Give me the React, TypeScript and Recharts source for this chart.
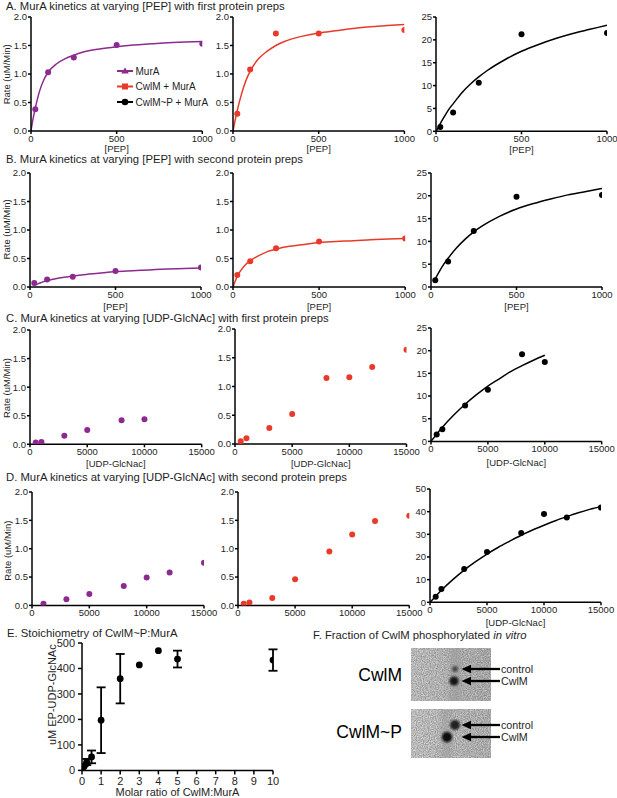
import React from 'react';
import { ComposedChart, Line, Scatter, XAxis, YAxis, ErrorBar, Legend } from 'recharts';

const PURPLE = '#8c2a90';
const RED = '#e83a2a';
const BLACK = '#000000';
const TEXT = '#1e1e1e';
const FONT = '"Liberation Sans", Arial, Helvetica, sans-serif';

// ---- tick labels
const pepTicks = [0, 500, 1000];
const udpTicks = [0, 5000, 10000, 15000];
const rateTicks = [0, 0.5, 1, 1.5, 2];
const rate25Ticks = [0, 5, 10, 15, 20, 25];
const rate50Ticks = [0, 10, 20, 30, 40, 50];
const ratioTicks = [0, 1, 2, 3, 4, 5, 6, 7, 8, 9, 10];
const productTicks = [0, 100, 200, 300, 400, 500];

// ---- legend
const legendNames = ['MurA', 'CwlM + MurA', 'CwlM~P + MurA'];
const legendColors = [PURPLE, RED, BLACK];
const legendShapes = ['triangle', 'square', 'circle'];

// ---- A: [PEP], first preps
const pepConc = [25, 100, 250, 500, 1000];
const aMurA = [0.38, 1.03, 1.29, 1.51, 1.53];
const aCwlM = [0.3, 1.08, 1.71, 1.71, 1.77];
const aCwlMP = [0.95, 4.1, 10.6, 21.2, 21.5];
const pepFitConc = [0, 10, 25, 50, 75, 100, 150, 200, 250, 300, 400, 500, 600, 700, 800, 900, 1000];
const aMurAFit = [0, 0.18, 0.4, 0.7, 0.9, 1.03, 1.18, 1.27, 1.33, 1.38, 1.44, 1.48, 1.51, 1.53, 1.55, 1.56, 1.57];
const aCwlMFit = [0, 0.15, 0.36, 0.65, 0.88, 1.05, 1.27, 1.4, 1.5, 1.57, 1.66, 1.72, 1.76, 1.8, 1.83, 1.85, 1.87];
const aCwlMPFit = [0, 0.6, 1.7, 3.3, 4.8, 6.0, 8.4, 10.3, 11.9, 13.3, 15.6, 17.5, 19.0, 20.3, 21.4, 22.3, 23.2];

// ---- B: [PEP], second preps
const bMurA = [0.07, 0.13, 0.18, 0.28, 0.34];
const bCwlM = [0.21, 0.45, 0.68, 0.8, 0.85];
const bCwlMP = [1.5, 5.6, 12.3, 19.8, 20.2];
const pepFitConc25 = [25, 50, 75, 100, 150, 200, 250, 300, 400, 500, 600, 700, 800, 900, 1000];
const bMurAFit = [0.03, 0.06, 0.09, 0.11, 0.145, 0.17, 0.19, 0.21, 0.24, 0.27, 0.285, 0.3, 0.315, 0.325, 0.335];
const bCwlMFit = [0, 0.08, 0.19, 0.31, 0.4, 0.46, 0.55, 0.62, 0.66, 0.7, 0.74, 0.78, 0.8, 0.81, 0.83, 0.84, 0.85];
const bCwlMPFit = [1.8, 3.5, 5.0, 6.3, 8.6, 10.5, 12.1, 13.4, 15.5, 17.1, 18.3, 19.3, 20.2, 20.9, 21.6];

// ---- C: [UDP-GlcNAc], first preps
const cConcMurA = [500, 1000, 3000, 5000, 8000, 10000];
const cMurA = [0.03, 0.04, 0.15, 0.25, 0.42, 0.44];
const cConcCwlM = [500, 1000, 3000, 5000, 8000, 10000, 12000, 15000];
const cCwlM = [0.05, 0.1, 0.28, 0.52, 1.15, 1.16, 1.34, 1.64];
const cConcCwlMP = [500, 1000, 3000, 5000, 8000, 10000];
const cCwlMP = [1.5, 2.7, 7.9, 11.4, 19.2, 17.5];
const cFitConc = [0, 500, 1000, 2000, 3000, 4000, 5000, 6000, 7000, 8000, 9000, 10000];
const cCwlMPFit = [0, 1.6, 3.1, 5.8, 8.2, 10.3, 12.2, 13.8, 15.4, 16.7, 17.9, 19.0];

// ---- D: [UDP-GlcNAc], second preps
const dConcMurA = [1000, 3000, 5000, 8000, 10000, 12000, 15000];
const dMurA = [0.03, 0.11, 0.2, 0.34, 0.49, 0.58, 0.75];
const dConcCwlM = [500, 1000, 3000, 5000, 8000, 10000, 12000, 15000];
const dCwlM = [0.03, 0.05, 0.13, 0.46, 0.95, 1.25, 1.49, 1.58];
const dConcCwlMP = [500, 1000, 3000, 5000, 8000, 10000, 12000, 15000];
const dCwlMP = [2.5, 5.9, 14.7, 22.2, 30.6, 39.0, 37.4, 41.8];
const dFitConc = [0, 500, 1000, 2000, 3000, 4000, 5000, 6000, 7000, 8000, 9000, 10000, 11000, 12000, 13000, 14000, 15000];
const dCwlMPFit = [0, 2.7, 5.3, 10.0, 14.2, 17.9, 21.3, 24.3, 27.0, 29.6, 31.9, 34.0, 36.0, 37.8, 39.5, 41.0, 42.3];

// ---- E: stoichiometry
const eRatio = [0.1, 0.2, 0.25, 0.5, 1, 2, 3, 4, 5, 10];
const eProduct = [14, 24, 33, 53, 197, 360, 414, 470, 437, 433];
const eSD = [0, 0, 12, 25, 129, 97, 0, 0, 33, 42];

type Pt = { x: number; y: number; err?: number };
const zip = (xs: number[], ys: number[], es?: number[]): Pt[] =>
  xs.map((x, i) => (es ? { x, y: ys[i], err: es[i] } : { x, y: ys[i] }));

const ePoints = zip(eRatio, eProduct, eSD);
const ePlain = ePoints.filter((p) => !p.err);
const eWithErr = ePoints.filter((p) => !!p.err);

type Box = { x0: number; x1: number; y0: number; y1: number };
type PlotProps = {
  box: Box;
  xDomain: [number, number];
  xTicks: number[];
  yDomain: [number, number];
  yTicks: number[];
  yDigits: number;
  color: string;
  points: Pt[];
  errPoints?: Pt[];
  fit?: Pt[];
  xLabel?: { text: string; y: number };
  yLabel?: { text: string; x: number; y: number };
  fs?: number;
  tickSize?: number;
  tickGap?: number;
  L?: number;
  dotR?: number;
  legend?: { x: number; y: number };
};

function LegendBox() {
  return (
    <svg width={104} height={46} style={{ display: 'block', overflow: 'visible' }}>
      {legendNames.map((name, i) => {
        const cy = 7 + i * 15.5;
        const c = legendColors[i];
        const s = legendShapes[i];
        let marker: React.ReactNode = null;
        if (s === 'triangle') marker = <polygon points={`8,${cy - 3.6} 4.2,${cy + 2.6} 11.8,${cy + 2.6}`} fill={c} />;
        else if (s === 'square') marker = <rect x={5} y={cy - 3} width={6} height={6} fill={c} />;
        else marker = <circle cx={8} cy={cy} r={3.3} fill={c} />;
        return (
          <g key={name}>
            <line x1={0} x2={16} y1={cy} y2={cy} stroke={c} strokeWidth={2} />
            {marker}
            <text x={18.5} y={cy} dominantBaseline="central" fontSize={10} fill={TEXT} fontFamily={FONT}>
              {name}
            </text>
          </g>
        );
      })}
    </svg>
  );
}

function Plot(p: PlotProps) {
  const L = p.L ?? 30;
  const T = 10;
  const R = 18;
  const B = 36;
  const { x0, x1, y0, y1 } = p.box;
  const left = x0 - L;
  const top = y0 - T;
  const w = x1 - x0 + L + R;
  const h = y1 - y0 + T + B;
  const fs = p.fs ?? 9.5;
  const tk = p.tickSize ?? 3;
  const gap = p.tickGap ?? 1;
  const r = p.dotR ?? 3;
  const axis = { stroke: '#000', strokeWidth: 1.5 };
  const tickStyle = { fontSize: fs, fill: TEXT, fontFamily: FONT };
  const xLab = p.xLabel
    ? () => (
        <text x={(x0 + x1) / 2 - left} y={p.xLabel!.y - top} textAnchor="middle" fontSize={fs} fill={TEXT} fontFamily={FONT}>
          {p.xLabel!.text}
        </text>
      )
    : undefined;
  const yLab = p.yLabel
    ? () => {
        const cx = p.yLabel!.x - left;
        const cy = p.yLabel!.y - top;
        return (
          <text
            x={cx}
            y={cy}
            transform={`rotate(-90 ${cx} ${cy})`}
            textAnchor="middle"
            dominantBaseline="central"
            fontSize={fs}
            fill={TEXT}
            fontFamily={FONT}
          >
            {p.yLabel!.text}
          </text>
        );
      }
    : undefined;
  const dot = (c: string) => (props: any) => <circle cx={props.cx} cy={props.cy} r={r} fill={c} />;
  return (
    <div style={{ position: 'absolute', left, top, width: w, height: h }}>
      <ComposedChart width={w} height={h} margin={{ top: T, right: R, bottom: 0, left: 0 }}>
        <XAxis
          type="number"
          dataKey="x"
          domain={p.xDomain}
          ticks={p.xTicks}
          interval={0}
          height={B}
          tickSize={tk}
          tickMargin={gap}
          axisLine={axis}
          tickLine={axis}
          tick={tickStyle}
          label={xLab}
          allowDataOverflow
        />
        <YAxis
          type="number"
          dataKey="y"
          domain={p.yDomain}
          ticks={p.yTicks}
          interval={0}
          width={L}
          tickSize={tk}
          tickMargin={p.tickGap !== undefined ? p.tickGap : 1}
          axisLine={axis}
          tickLine={axis}
          tick={tickStyle}
          tickFormatter={(v: number) => v.toFixed(p.yDigits)}
          label={yLab}
          allowDataOverflow
        />
        {p.fit && (
          <Line
            data={p.fit}
            dataKey="y"
            type="monotone"
            dot={false}
            activeDot={false}
            stroke={p.color}
            strokeWidth={1.5}
            isAnimationActive={false}
          />
        )}
        <Scatter data={p.points} dataKey="y" fill={p.color} shape={dot(p.color)} isAnimationActive={false} />
        {p.errPoints && (
          <Scatter data={p.errPoints} dataKey="y" fill={p.color} shape={dot(p.color)} isAnimationActive={false}>
            <ErrorBar dataKey="err" direction="y" width={4.5} stroke="#000" strokeWidth={1.8} />
          </Scatter>
        )}
        {p.legend && (
          <Legend
            layout="vertical"
            align="center"
            verticalAlign="middle"
            wrapperStyle={{ left: p.legend.x - left, top: p.legend.y - top, width: 104, height: 46 }}
            content={() => <LegendBox />}
          />
        )}
      </ComposedChart>
    </div>
  );
}

const RATE = 'Rate (uM/Min)';

function Gel() {
  const arrow = (y: number) => (
    <g key={y}>
      <line x1={469} x2={500} y1={y} y2={y} stroke="#000" strokeWidth={2.3} />
      <polygon points={`461.5,${y} 471,${y - 4.2} 471,${y + 4.2}`} fill="#000" />
    </g>
  );
  return (
    <g>
      <defs>
        <filter id="gelNoise" x="0" y="0" width="1" height="1">
          <feTurbulence type="fractalNoise" baseFrequency="0.85" numOctaves="2" seed="4" />
          <feColorMatrix type="matrix" values="0 0 0 0 0  0 0 0 0 0  0 0 0 0 0  0.55 0 0 0 -0.12" />
        </filter>
        <filter id="laneBlur" x="-100%" y="-20%" width="300%" height="140%">
          <feGaussianBlur stdDeviation="2.5" />
        </filter>
        <filter id="spotBlur" x="-100%" y="-100%" width="300%" height="300%">
          <feGaussianBlur stdDeviation="1.1" />
        </filter>
        <linearGradient id="gelShade" x1="0" x2="1" y1="0" y2="0">
          <stop offset="0" stopColor="#ffffff" stopOpacity="0.25" />
          <stop offset="0.5" stopColor="#ffffff" stopOpacity="0.05" />
          <stop offset="1" stopColor="#000000" stopOpacity="0.04" />
        </linearGradient>
        <clipPath id="gel1">
          <rect x={411} y={648} width={80} height={53} />
        </clipPath>
        <clipPath id="gel2">
          <rect x={411} y={709} width={80} height={49} />
        </clipPath>
      </defs>
      <g clipPath="url(#gel1)">
        <rect x={411} y={648} width={80} height={53} fill="#cacaca" />
        <rect x={411} y={648} width={80} height={53} fill="url(#gelShade)" />
        <rect x={411} y={648} width={80} height={53} filter="url(#gelNoise)" />
        <rect x={450} y={640} width={11} height={70} fill="#9a9a9a" opacity={0.55} filter="url(#laneBlur)" />
        <circle cx={455} cy={669} r={3} fill="#4a4a4a" filter="url(#spotBlur)" />
        <circle cx={454} cy={681} r={4.6} fill="#141414" filter="url(#spotBlur)" />
      </g>
      <g clipPath="url(#gel2)">
        <rect x={411} y={709} width={80} height={49} fill="#cfcfcf" />
        <rect x={411} y={709} width={80} height={49} fill="url(#gelShade)" />
        <rect x={411} y={709} width={80} height={49} filter="url(#gelNoise)" />
        <rect x={441} y={700} width={11} height={70} fill="#9a9a9a" opacity={0.5} filter="url(#laneBlur)" />
        <circle cx={455} cy={725} r={5} fill="#232323" filter="url(#spotBlur)" />
        <circle cx={447} cy={737} r={5.2} fill="#0e0e0e" filter="url(#spotBlur)" />
      </g>
      {[669, 681, 725, 737].map(arrow)}
      <text x={501} y={669} dominantBaseline="central" fontSize={10.7} fill={TEXT}>control</text>
      <text x={501} y={681} dominantBaseline="central" fontSize={10.7} fill={TEXT}>CwlM</text>
      <text x={501} y={725} dominantBaseline="central" fontSize={10.7} fill={TEXT}>control</text>
      <text x={501} y={737} dominantBaseline="central" fontSize={10.7} fill={TEXT}>CwlM</text>
      <text x={402} y={675} textAnchor="end" dominantBaseline="central" fontSize={17.5} fill="#000">CwlM</text>
      <text x={402} y={732} textAnchor="end" dominantBaseline="central" fontSize={17.5} fill="#000">CwlM~P</text>
    </g>
  );
}

function Overlay() {
  const ts = 11.3;
  return (
    <svg width={617} height={798} style={{ position: 'absolute', left: 0, top: 0, pointerEvents: 'none' }} fontFamily={FONT}>
      <text x={6} y={10} fontSize={ts} fill={TEXT}>A. MurA kinetics at varying [PEP] with first protein preps</text>
      <text x={6} y={163} fontSize={ts} fill={TEXT}>B. MurA kinetics at varying [PEP] with second protein preps</text>
      <text x={6} y={321.5} fontSize={ts} fill={TEXT}>C. MurA kinetics at varying [UDP-GlcNAc] with first protein preps</text>
      <text x={6} y={480.5} fontSize={ts} fill={TEXT}>D. MurA kinetics at varying [UDP-GlcNAc] with second protein preps</text>
      <text x={7} y={636.5} fontSize={ts} fill={TEXT}>E. Stoichiometry of CwlM~P:MurA</text>
      <text x={313} y={638.5} fontSize={ts} fill={TEXT}>
        F. Fraction of CwlM phosphorylated <tspan fontStyle="italic">in vitro</tspan>
      </text>
      <Gel />
    </svg>
  );
}

export default function App() {
  return (
    <div style={{ position: 'absolute', left: 0, top: 0, width: 617, height: 798, overflow: 'hidden', background: '#fff', fontFamily: FONT }}>
      {/* Row A */}
      <Plot box={{ x0: 30.7, x1: 202, y0: 16.7, y1: 130.7 }} xDomain={[0, 1000]} xTicks={pepTicks} yDomain={[0, 2]} yTicks={rateTicks} yDigits={1}
        color={PURPLE} points={zip(pepConc, aMurA)} fit={zip(pepFitConc, aMurAFit)}
        xLabel={{ text: '[PEP]', y: 151.5 }} yLabel={{ text: RATE, x: 6.5, y: 74 }} legend={{ x: 117, y: 64 }} />
      <Plot box={{ x0: 233.3, x1: 404.7, y0: 16.8, y1: 130.7 }} xDomain={[0, 1000]} xTicks={pepTicks} yDomain={[0, 2]} yTicks={rateTicks} yDigits={1}
        color={RED} points={zip(pepConc, aCwlM)} fit={zip(pepFitConc, aCwlMFit)}
        xLabel={{ text: '[PEP]', y: 152 }} />
      <Plot box={{ x0: 436, x1: 607, y0: 16.7, y1: 131 }} xDomain={[0, 1000]} xTicks={pepTicks} yDomain={[0, 25]} yTicks={rate25Ticks} yDigits={0}
        color={BLACK} points={zip(pepConc, aCwlMP)} fit={zip(pepFitConc, aCwlMPFit)}
        xLabel={{ text: '[PEP]', y: 152.5 }} />

      {/* Row B */}
      <Plot box={{ x0: 30, x1: 201, y0: 172.7, y1: 286.7 }} xDomain={[0, 1000]} xTicks={pepTicks} yDomain={[0, 2]} yTicks={rateTicks} yDigits={1}
        color={PURPLE} points={zip(pepConc, bMurA)} fit={zip(pepFitConc25, bMurAFit)}
        xLabel={{ text: '[PEP]', y: 309.5 }} yLabel={{ text: RATE, x: 6.5, y: 229 }} />
      <Plot box={{ x0: 233.3, x1: 405.5, y0: 172.7, y1: 286.7 }} xDomain={[0, 1000]} xTicks={pepTicks} yDomain={[0, 2]} yTicks={rateTicks} yDigits={1}
        color={RED} points={zip(pepConc, bCwlM)} fit={zip(pepFitConc, bCwlMFit)}
        xLabel={{ text: '[PEP]', y: 309.5 }} />
      <Plot box={{ x0: 430.7, x1: 601.7, y0: 172.7, y1: 286.7 }} xDomain={[0, 1000]} xTicks={pepTicks} yDomain={[0, 25]} yTicks={rate25Ticks} yDigits={0}
        color={BLACK} points={zip(pepConc, bCwlMP)} fit={zip(pepFitConc25, bCwlMPFit)}
        xLabel={{ text: '[PEP]', y: 309.5 }} />

      {/* Row C */}
      <Plot box={{ x0: 30, x1: 201.7, y0: 330, y1: 444.3 }} xDomain={[0, 15000]} xTicks={udpTicks} yDomain={[0, 2]} yTicks={rateTicks} yDigits={1}
        color={PURPLE} points={zip(cConcMurA, cMurA)}
        xLabel={{ text: '[UDP-GlcNac]', y: 467 }} yLabel={{ text: RATE, x: 7, y: 388 }} />
      <Plot box={{ x0: 235, x1: 406.5, y0: 329, y1: 444 }} xDomain={[0, 15000]} xTicks={udpTicks} yDomain={[0, 2]} yTicks={rateTicks} yDigits={1}
        color={RED} points={zip(cConcCwlM, cCwlM)}
        xLabel={{ text: '[UDP-GlcNac]', y: 467 }} />
      <Plot box={{ x0: 431, x1: 601.7, y0: 328.3, y1: 441.7 }} xDomain={[0, 15000]} xTicks={udpTicks} yDomain={[0, 25]} yTicks={rate25Ticks} yDigits={0}
        color={BLACK} points={zip(cConcCwlMP, cCwlMP)} fit={zip(cFitConc, cCwlMPFit)}
        xLabel={{ text: '[UDP-GlcNac]', y: 466.5 }} />

      {/* Row D */}
      <Plot box={{ x0: 32.3, x1: 204.3, y0: 492.3, y1: 605.7 }} xDomain={[0, 15000]} xTicks={udpTicks} yDomain={[0, 2]} yTicks={rateTicks} yDigits={1}
        color={PURPLE} points={zip(dConcMurA, dMurA)}
        yLabel={{ text: RATE, x: 8, y: 551 }} />
      <Plot box={{ x0: 237.7, x1: 409, y0: 492.3, y1: 605.7 }} xDomain={[0, 15000]} xTicks={udpTicks} yDomain={[0, 2]} yTicks={rateTicks} yDigits={1}
        color={RED} points={zip(dConcCwlM, dCwlM)} />
      <Plot box={{ x0: 430, x1: 601, y0: 489, y1: 602.3 }} xDomain={[0, 15000]} xTicks={udpTicks} yDomain={[0, 50]} yTicks={rate50Ticks} yDigits={0}
        color={BLACK} points={zip(dConcCwlMP, dCwlMP)} fit={zip(dFitConc, dCwlMPFit)}
        xLabel={{ text: '[UDP-GlcNac]', y: 626.5 }} />

      {/* Row E */}
      <Plot box={{ x0: 82, x1: 273, y0: 643.3, y1: 770.7 }} xDomain={[0, 10]} xTicks={ratioTicks} yDomain={[0, 500]} yTicks={productTicks} yDigits={0}
        color={BLACK} points={ePlain} errPoints={eWithErr} L={40} fs={11} tickSize={4} tickGap={3} dotR={3.4}
        xLabel={{ text: 'Molar ratio of CwlM:MurA', y: 796 }} yLabel={{ text: 'uM EP-UDP-GlcNAc', x: 52.5, y: 695 }} />

      <Overlay />
    </div>
  );
}
